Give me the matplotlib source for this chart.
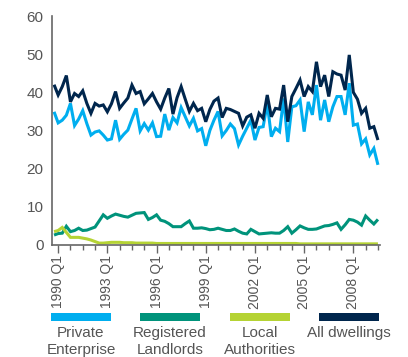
import matplotlib
matplotlib.use("Agg")
import matplotlib.pyplot as plt
from matplotlib.patches import Rectangle
import numpy as np

# Quarterly categories, 1989 Q4 through 2009 Q3
quarters = [f"{y} Q{q}" for y in range(1989, 2010) for q in range(1, 5)][3:-1]

tick_labels = ["1990 Q1", "1993 Q1", "1996 Q1", "1999 Q1", "2002 Q1", "2005 Q1", "2008 Q1"]

series_names = ["Private\nEnterprise", "Registered\nLandlords", "Local\nAuthorities", "All dwellings"]
series_colors = ["#00AEEF", "#00937B", "#B5D334", "#00264D"]

# Dwellings (thousands) per quarter
private_enterprise = [
    34.9, 32.0, 32.7, 34.0, 37.1, 31.3, 33.0, 35.2, 31.8, 28.8,
    29.6, 29.9, 28.8, 27.5, 27.8, 32.7, 27.7, 29.0, 30.1, 33.0,
    35.8, 29.9, 31.8, 30.1, 32.0, 28.4, 28.5, 34.3, 30.1, 33.4,
    32.0, 36.0, 33.6, 31.2, 33.2, 29.9, 30.5, 26.0, 30.0, 32.7,
    35.0, 28.6, 30.0, 31.7, 30.5, 26.2, 28.5, 30.6, 32.7, 27.5,
    30.8, 31.0, 37.1, 28.4, 30.6, 29.7, 38.4, 27.0, 36.2, 36.5,
    38.0, 29.7, 37.5, 34.1, 41.9, 32.7, 38.0, 32.3, 36.2, 38.9,
    38.9, 34.1, 42.4, 31.4, 31.7, 26.5, 27.8, 23.6, 25.3, 21.0,
]
registered_landlords = [
    2.6, 3.0, 3.1, 4.9, 3.5, 3.8, 4.4, 3.8, 3.9, 4.3,
    4.7, 6.3, 7.9, 7.0, 7.6, 8.1, 7.8, 7.5, 7.3, 7.8,
    8.3, 8.4, 8.5, 6.7, 7.2, 7.9, 6.5, 6.2, 5.6, 4.8,
    4.8, 4.8, 5.6, 6.3, 4.4, 4.4, 4.5, 4.3, 4.0, 4.1,
    4.4, 4.1, 3.8, 3.8, 4.2, 3.6, 3.1, 2.9, 4.1, 3.5,
    2.9, 3.0, 3.1, 3.2, 3.1, 3.1, 3.8, 4.8, 3.1, 4.0,
    5.0, 4.5, 4.1, 4.1, 4.2, 4.6, 5.0, 5.1, 5.4, 5.8,
    4.1, 5.3, 6.7, 6.5, 6.0, 5.2, 7.6, 6.5, 5.5, 6.7,
]
local_authorities = [
    3.5, 3.8, 4.6, 3.3, 2.0, 2.0, 2.0, 1.8, 1.6, 1.3,
    0.9, 0.5, 0.5, 0.6, 0.7, 0.7, 0.7, 0.6, 0.6, 0.6,
    0.5, 0.5, 0.5, 0.5, 0.5, 0.4, 0.4, 0.4, 0.4, 0.4,
    0.4, 0.4, 0.4, 0.4, 0.4, 0.4, 0.4, 0.4, 0.4, 0.4,
    0.4, 0.4, 0.4, 0.4, 0.4, 0.4, 0.4, 0.4, 0.4, 0.4,
    0.4, 0.4, 0.4, 0.4, 0.4, 0.4, 0.4, 0.4, 0.4, 0.4,
    0.3, 0.3, 0.3, 0.3, 0.3, 0.3, 0.3, 0.3, 0.3, 0.3,
    0.3, 0.3, 0.3, 0.3, 0.3, 0.3, 0.3, 0.3, 0.3, 0.3,
]
all_dwellings = [
    42.0, 39.3, 41.5, 44.4, 37.5, 39.7, 38.9, 40.4, 37.1, 34.5,
    37.1, 36.4, 36.7, 34.9, 37.0, 40.2, 35.8, 37.2, 38.5, 41.9,
    39.7, 40.2, 37.0, 38.3, 39.7, 37.5, 35.6, 38.5, 41.0, 34.3,
    38.6, 41.5, 38.2, 35.0, 37.1, 35.2, 35.8, 32.3, 35.5, 37.7,
    38.5, 33.4, 35.8, 35.5, 35.0, 34.5, 31.2, 33.5, 34.1, 30.6,
    34.5, 33.2, 39.3, 33.6, 35.8, 35.6, 41.9, 32.3, 38.9, 41.0,
    43.2, 38.9, 41.5, 40.2, 48.0, 41.5, 44.5, 38.9, 45.4, 44.8,
    44.5, 40.6, 49.8, 40.0, 38.2, 34.5, 35.8, 30.6, 31.0, 27.5,
]

y_ticks = [0, 10, 20, 30, 40, 50, 60]

text_color = "#555555"
axis_color = "#666666"
plt.rcParams["font.family"] = ["Liberation Sans", "DejaVu Sans"]

fig = plt.figure(figsize=(4.08, 3.57), dpi=100)
ax = fig.add_axes([52 / 408, 1 - 245 / 357, 328 / 408, 229 / 357])

x = np.arange(len(quarters))
for values, color in zip(
    [private_enterprise, registered_landlords, local_authorities, all_dwellings],
    series_colors,
):
    ax.plot(x, values, color=color, lw=2.2, solid_joinstyle="miter",
            solid_capstyle="butt")

ax.set_xlim(-0.5, len(quarters) - 0.5)
ax.set_ylim(0, 60)
ax.set_yticks(y_ticks)
ax.tick_params(axis="y", length=0, pad=6, labelsize=11, labelcolor=text_color)

major_pos = [quarters.index(t) for t in tick_labels]
ax.set_xticks(major_pos)
ax.set_xticklabels(tick_labels, rotation=90)
ax.set_xticks(np.arange(1, len(quarters), 3), minor=True)
ax.tick_params(axis="x", which="major", length=6, width=1, color=axis_color,
               pad=1.5, labelsize=10, labelcolor=text_color)
ax.tick_params(axis="x", which="minor", length=3.5, width=1, color=axis_color)

for side in ["top", "right"]:
    ax.spines[side].set_visible(False)
for side in ["left", "bottom"]:
    ax.spines[side].set_color(axis_color)
    ax.spines[side].set_linewidth(1.2)

# Legend drawn as coloured bars with captions underneath
W, H = 408, 357
bar_left = [51, 140, 230, 319]
for left, color, name in zip(bar_left, series_colors, series_names):
    fig.add_artist(Rectangle((left / W, 1 - 321 / H), 60 / W, 8 / H,
                             transform=fig.transFigure, color=color, lw=0))
    fig.text((left + 30) / W, 1 - 326 / H, name, ha="center", va="top",
             fontsize=11, color=text_color, linespacing=1.25)

fig.savefig("out.png", dpi=100)
